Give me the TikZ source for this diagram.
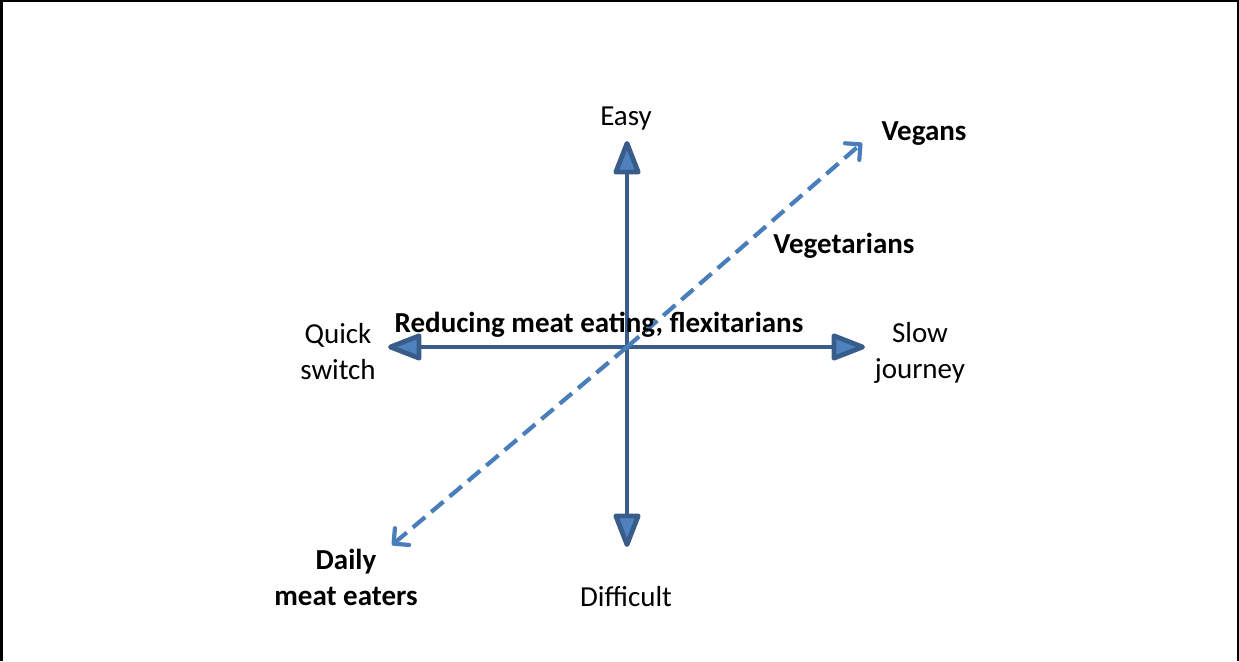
\documentclass[tikz,border=0pt]{standalone}
\usepackage{fontspec}
\setmainfont{Carlito}
\usetikzlibrary{arrows.meta}
\definecolor{axisdark}{HTML}{385D8A}
\definecolor{axisfill}{HTML}{4F81BD}
\definecolor{dashblue}{HTML}{4A7EBB}
\tikzset{
  axisarrow/.style={draw=axisdark, line width=4.8pt, line join=round,
    -{Triangle[length=38pt,width=28pt,fill=axisfill,line join=round]}},
  dasharrow/.style={draw=dashblue, line width=4.2pt, dash pattern=on 16pt off 8pt,
    -{Straight Barb[length=11pt,width=22pt,line join=round,line cap=round]}},
  lbl/.style={font=\fontsize{29}{36}\selectfont, align=center, inner sep=0pt},
  blbl/.style={lbl, font=\fontsize{29}{36}\selectfont\bfseries}
}
\begin{document}
\begin{tikzpicture}[x=1pt,y=-1pt]
\useasboundingbox (0,0) rectangle (1239,661);
\draw[line width=2.5pt] (1.25,661) -- (1.25,1.25) -- (1237.75,1.25) -- (1237.75,661);
\coordinate (c) at (627,347);
\coordinate (top) at (627,141);
\coordinate (bot) at (627,547);
\coordinate (lft) at (388,347);
\coordinate (rgt) at (865,347);
\coordinate (dlo) at (392,545);
\coordinate (dhi) at (862,143);
\draw[axisarrow] (c) -- (top);
\draw[axisarrow] (c) -- (bot);
\draw[axisarrow] (c) -- (lft);
\draw[axisarrow] (c) -- (rgt);
\draw[dasharrow] (c) -- (dhi);
\draw[dasharrow] (c) -- (dlo);
\node[lbl] (easy) at (626,119) {Easy};
\node[lbl] (diff) at (626,597) {Difficult};
\node[lbl] (quick) at (338,352) {Quick\\switch};
\node[lbl] (slow) at (920,353) {Slow\\journey};
\node[blbl] (vegans) at (924,134) {Vegans};
\node[blbl] (veget) at (844,246) {Vegetarians};
\node[blbl] (flex) at (599,325) {Reducing meat eating, flexitarians};
\node[blbl] (daily) at (346,577) {Daily\\meat eaters};
\end{tikzpicture}
\end{document}
